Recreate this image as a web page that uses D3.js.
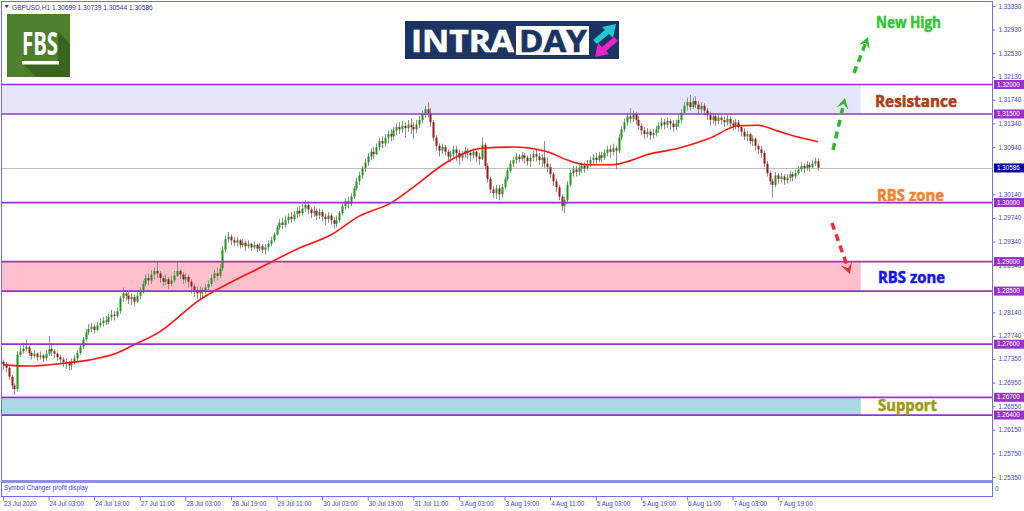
<!DOCTYPE html>
<html><head><meta charset="utf-8">
<script src="https://cdn.jsdelivr.net/npm/d3@7"></script>
<style>
html,body{margin:0;padding:0;background:#fff;overflow:hidden;}
svg{display:block;}
</style></head><body>
<svg id="c" width="1024" height="511"></svg>
<script>
// ---------- DATA (prices in pips above 1.2000, i.e. 1.2 + v/10000) ----------
const symbolHeader = "GBPUSD,H1  1.30699 1.30739 1.30544 1.30586";
const firstOpen = 730;
const closes = [
726,720,705,690,684,742,748,752,755,745,
740,744,738,741,736,744,752,748,744,738,
734,730,728,724,730,736,745,756,768,780,
786,790,784,792,796,800,798,806,810,808,
816,838,846,842,836,840,832,842,850,862,
872,868,878,884,880,872,866,870,862,868,
876,884,878,870,874,866,858,852,846,852,
848,856,862,872,880,876,888,920,938,942,
936,932,936,928,932,926,930,924,928,922,
926,920,924,930,936,946,958,966,962,970,
976,972,980,986,982,990,996,988,982,986,
978,984,976,972,978,970,964,970,982,994,
1002,998,1010,1024,1036,1046,1058,1068,1078,1086,
1082,1094,1104,1100,1110,1116,1112,1122,1128,1124,
1130,1126,1132,1128,1124,1132,1140,1150,1158,1152,
1136,1110,1096,1088,1094,1086,1078,1082,1090,1084,
1076,1082,1088,1084,1080,1086,1078,1074,1098,1062,
1040,1022,1016,1024,1014,1026,1040,1054,1066,1072,
1078,1074,1080,1076,1070,1076,1082,1078,1072,1076,
1066,1060,1048,1036,1026,1010,994,1004,1030,1050,
1056,1052,1058,1062,1058,1066,1072,1076,1072,1080,
1076,1084,1090,1086,1092,1088,1110,1124,1136,1146,
1142,1150,1140,1130,1122,1116,1120,1114,1118,1124,
1130,1136,1132,1138,1134,1128,1134,1140,1152,1164,
1170,1162,1172,1166,1158,1164,1156,1148,1140,1146,
1138,1144,1140,1136,1142,1134,1130,1136,1128,1120,
1112,1116,1104,1108,1096,1090,1084,1066,1050,1036,
1030,1046,1040,1044,1038,1042,1048,1044,1050,1056,
1062,1058,1064,1060,1066,1070,1059];
const highs = [
734,730,722,708,694,748,758,762,767,758,
748,750,746,748,744,750,774,760,752,748,
742,738,736,732,736,742,750,760,772,786,
794,796,794,798,804,806,808,812,818,816,
822,842,856,852,848,846,844,850,856,868,
878,880,886,890,898,884,876,878,874,876,
884,898,888,882,880,878,870,862,858,858,
856,862,868,878,886,890,896,926,944,950,
946,942,942,938,938,936,936,932,934,930,
932,930,930,936,942,950,962,972,974,978,
982,984,986,992,994,998,1004,1002,992,994,
990,990,988,982,984,982,976,978,986,998,
1008,1010,1016,1028,1042,1052,1062,1074,1084,1092,
1094,1100,1110,1112,1116,1122,1124,1128,1134,1136,
1138,1136,1140,1142,1136,1140,1146,1156,1164,1170,
1160,1140,1114,1100,1100,1098,1090,1088,1096,1096,
1090,1088,1094,1092,1090,1092,1088,1084,1110,1102,
1066,1044,1028,1030,1030,1032,1044,1060,1072,1078,
1084,1082,1086,1084,1080,1082,1088,1090,1084,1082,
1104,1076,1066,1052,1040,1030,1014,1010,1036,1056,
1062,1062,1064,1068,1068,1072,1078,1082,1084,1086,
1086,1090,1096,1098,1100,1096,1116,1130,1142,1152,
1160,1156,1154,1146,1134,1128,1126,1124,1124,1130,
1136,1144,1142,1144,1142,1140,1140,1148,1158,1170,
1178,1182,1178,1180,1172,1170,1168,1160,1154,1152,
1150,1150,1148,1146,1148,1146,1140,1142,1140,1132,
1126,1122,1118,1114,1110,1100,1096,1088,1070,1054,
1040,1052,1050,1050,1048,1048,1054,1052,1056,1062,
1068,1066,1070,1068,1072,1076,1074];
const lows = [
716,712,700,684,674,680,738,744,748,740,
734,736,732,734,730,732,740,740,736,732,
726,722,718,716,716,726,732,742,752,764,
776,780,778,782,788,790,792,794,800,800,
804,812,832,834,828,826,824,830,836,846,
858,860,862,870,872,864,858,860,854,858,
864,874,870,862,864,856,846,840,836,834,
838,844,850,858,866,868,872,884,916,932,
928,926,926,922,924,918,922,918,920,916,
918,914,912,918,926,932,944,954,956,958,
964,966,968,974,976,978,984,980,974,976,
970,972,968,962,966,962,956,958,966,978,
988,990,994,1006,1020,1030,1040,1052,1062,1072,
1074,1080,1088,1092,1094,1100,1104,1106,1114,1116,
1118,1110,1120,1116,1108,1118,1126,1134,1144,1144,
1128,1104,1088,1078,1082,1080,1070,1068,1076,1070,
1064,1070,1076,1074,1070,1074,1068,1064,1072,1056,
1034,1016,1008,1006,1004,1008,1022,1036,1050,1060,
1066,1068,1070,1066,1062,1060,1070,1070,1064,1060,
1058,1052,1042,1028,1018,1004,986,982,998,1026,
1044,1044,1046,1050,1050,1054,1060,1064,1066,1068,
1068,1072,1078,1076,1080,1056,1084,1106,1120,1130,
1134,1136,1132,1124,1114,1108,1110,1106,1108,1112,
1118,1124,1124,1126,1124,1120,1122,1128,1134,1148,
1156,1156,1158,1160,1150,1152,1148,1140,1130,1134,
1130,1132,1132,1128,1130,1126,1122,1124,1120,1112,
1106,1104,1098,1096,1088,1082,1076,1060,1044,1030,
1008,1026,1032,1034,1030,1032,1036,1036,1040,1046,
1052,1050,1054,1052,1058,1062,1054];

// moving average (read at sample bars)
const maIndex  = [0,9,20,30,40,46,55,69,80,90,104,115,125,136,144,156,168,179,191,198,205,214,219,226,237,248,258,265,272,279,286];
const maValues = [725,723,727,733,745,759,781,835,865,889,923,945,977,999,1026,1069,1092,1094,1086,1072,1064,1064,1069,1081,1092,1109,1130,1131,1121,1111,1103];

// time axis labels (bar index, text)
const timeIndex = [0,16,32,48,64,80,96,112,128,144,160,176,192,208,224,240,256,272];
const timeText = ["23 Jul 2020","24 Jul 03:00","24 Jul 19:00","27 Jul 11:00","28 Jul 03:00","28 Jul 19:00","29 Jul 11:00","30 Jul 03:00","30 Jul 19:00","31 Jul 11:00","3 Aug 03:00","3 Aug 19:00","4 Aug 11:00","5 Aug 03:00","5 Aug 19:00","6 Aug 11:00","7 Aug 03:00","7 Aug 19:00"];

// price axis labels (those not hidden behind the level boxes)
const priceTicks = ["1.33330","1.32930","1.32530","1.32130","1.31740","1.31340","1.30940","1.30140","1.29740","1.29340","1.28940","1.28140","1.27740","1.27350","1.26950","1.26550","1.26150","1.25750","1.25350"];

// horizontal levels and zones
const levelPrices = [1.32000,1.31500,1.30000,1.29000,1.28500,1.27600,1.26700,1.26400];
const zoneTop    = [1.32000,1.29000,1.26700];
const zoneBottom = [1.31500,1.28500,1.26400];
const zoneEndIndex = 301;
const currentPrice = 1.30586;

// ---------- STYLE ----------
const zoneColors = ["#e6e6fa","#ffc0cb","#add8e6"];
const frameColor = "#6f6fe0";
const textBlue = "#4040cc";
const levelColor = "#9932cc";
const FONT = "'Liberation Sans', Arial, sans-serif";

// ---------- CHART ----------
const svg = d3.select("#c");
const pip = v => 1.2 + v / 10000;
const N = closes.length;
const candles = closes.map((c, i) => ({
  i, o: pip(i === 0 ? firstOpen : closes[i - 1]), h: pip(highs[i]), l: pip(lows[i]), c: pip(c)
}));

const x = d3.scaleLinear().domain([0, N - 1]).range([3, 818]);
const y = d3.scaleLinear().domain([1.2535, 1.3333]).range([477, 6]);

svg.append("rect").attr("width", 1024).attr("height", 511).attr("fill", "#fff");

// zones
const zg = svg.append("g");
zoneTop.forEach((t, k) => {
  zg.append("rect").attr("x", 2).attr("y", y(t))
    .attr("width", x(zoneEndIndex) - 2).attr("height", y(zoneBottom[k]) - y(t))
    .attr("fill", zoneColors[k]);
});

// current price line
svg.append("line").attr("x1", 2).attr("x2", 992).attr("y1", Math.round(y(currentPrice)) + 0.5).attr("y2", Math.round(y(currentPrice)) + 0.5)
  .attr("stroke", "#bdbdbd").attr("stroke-width", 1);

// candles
const cg = svg.append("g");
candles.forEach(d => {
  const xi = Math.round(x(d.i));
  cg.append("rect").attr("x", xi).attr("width", 1)
    .attr("y", y(d.h)).attr("height", Math.max(1, y(d.l) - y(d.h))).attr("fill", "#8e8e8e");
  const top = y(Math.max(d.o, d.c)), bot = y(Math.min(d.o, d.c));
  cg.append("rect").attr("x", xi - 0.5).attr("width", 2)
    .attr("y", top).attr("height", Math.max(1, bot - top))
    .attr("fill", d.c >= d.o ? "#169a16" : "#9a1616");
});

// moving average
const maLine = d3.line().x(d => x(d[0])).y(d => y(pip(d[1]))).curve(d3.curveMonotoneX);
svg.append("path").datum(maIndex.map((m, k) => [m, maValues[k]]))
  .attr("d", maLine).attr("fill", "none").attr("stroke", "#ff1414").attr("stroke-width", 1.6);

// level lines
levelPrices.forEach(p => {
  svg.append("line").attr("x1", 2).attr("x2", 992).attr("y1", y(p)).attr("y2", y(p))
    .attr("stroke", levelColor).attr("stroke-width", 1.7);
});

// ---------- FRAME ----------
svg.append("line").attr("x1", 1.5).attr("x2", 1.5).attr("y1", 1).attr("y2", 497).attr("stroke", frameColor);
svg.append("line").attr("x1", 1).attr("x2", 993).attr("y1", 1.5).attr("y2", 1.5).attr("stroke", frameColor);
svg.append("rect").attr("x", 1).attr("y", 480).attr("width", 992).attr("height", 3).attr("fill", "#8e8ee6");
svg.append("line").attr("x1", 992.5).attr("x2", 992.5).attr("y1", 1).attr("y2", 497).attr("stroke", frameColor);
svg.append("line").attr("x1", 1).attr("x2", 993).attr("y1", 496.5).attr("y2", 496.5).attr("stroke", frameColor);

// right axis
const yAxis = d3.axisRight(y).tickValues(priceTicks.map(Number)).tickFormat((d, i) => priceTicks[i]).tickSize(3).tickPadding(3);
const ya = svg.append("g").attr("transform", "translate(992.5,0)").call(yAxis);
ya.select(".domain").remove();
ya.selectAll("line").attr("stroke", frameColor);
ya.selectAll("text").attr("fill", textBlue).style("font", "6.3px " + FONT);

// price boxes for levels
const boxes = svg.append("g");
levelPrices.forEach(p => {
  boxes.append("rect").attr("x", 994).attr("y", y(p) - 4.5).attr("width", 30).attr("height", 9).attr("fill", levelColor);
  boxes.append("text").attr("x", 997).attr("y", y(p)).attr("dy", "0.34em").attr("fill", "#fff")
    .style("font", "6.3px " + FONT).text(d3.format(".5f")(p));
});
boxes.append("rect").attr("x", 994).attr("y", y(currentPrice) - 4.5).attr("width", 30).attr("height", 9).attr("fill", "#0000a0");
boxes.append("text").attr("x", 997).attr("y", y(currentPrice)).attr("dy", "0.34em").attr("fill", "#fff")
  .style("font", "6.3px " + FONT).text(d3.format(".5f")(currentPrice));

// bottom axis
const xAxis = d3.axisBottom(x).tickValues(timeIndex).tickFormat((d, i) => timeText[i]).tickSize(4);
const xa = svg.append("g").attr("transform", "translate(0,496.5)").call(xAxis);
xa.select(".domain").remove();
xa.selectAll("line").attr("stroke", frameColor);
xa.selectAll("text").attr("fill", textBlue).attr("text-anchor", "start").attr("x", 0.5).attr("y", 5).attr("dy", "0.71em")
  .style("font", "6.3px " + FONT);

// subwindow
svg.append("text").attr("x", 4).attr("y", 490).attr("fill", textBlue).style("font", "6.3px " + FONT).text("Symbol Changer profit display");
svg.append("text").attr("x", 995).attr("y", 491).attr("fill", textBlue).style("font", "6.3px " + FONT).text("0");

// header
svg.append("path").attr("d", "M4.5,5 L9,5 L6.75,8 Z").attr("fill", "#3030c0");
svg.append("text").attr("x", 12).attr("y", 9.5).attr("fill", "#3030c0").style("font", "6.6px " + FONT).text(symbolHeader);

// ---------- LOGOS ----------
const fbs = svg.append("g");
fbs.append("rect").attr("x", 7).attr("y", 14).attr("width", 63).attr("height", 63).attr("fill", "#4d7f2c");
fbs.append("path").attr("d", "M58,32 L70,44 L70,77 L36,77 L22,63 L58,63 Z").attr("fill", "#3a651f");
fbs.append("text").attr("x", 22).attr("y", 55).attr("fill", "#fff").attr("textLength", 36).attr("lengthAdjust", "spacingAndGlyphs")
  .style("font", "bold 32px 'Open Sans', sans-serif").text("FBS");
fbs.append("rect").attr("x", 22).attr("y", 61).attr("width", 37).attr("height", 3.5).attr("fill", "#fff");

const intra = svg.append("g");
intra.append("rect").attr("x", 405).attr("y", 21).attr("width", 214).attr("height", 38).attr("fill", "#1b3462");
intra.append("text").attr("x", 411).attr("y", 52).attr("fill", "#fff").attr("textLength", 103).attr("lengthAdjust", "spacingAndGlyphs")
  .attr("stroke", "#fff").attr("stroke-width", 0.6)
  .style("font", "bold 31px 'Open Sans', sans-serif").text("INTRA");
intra.append("rect").attr("x", 516).attr("y", 26).attr("width", 73).attr("height", 29).attr("fill", "#fff");
intra.append("text").attr("x", 519).attr("y", 52).attr("fill", "#1b3462").attr("textLength", 68).attr("lengthAdjust", "spacingAndGlyphs")
  .attr("stroke", "#1b3462").attr("stroke-width", 0.6)
  .style("font", "bold 31px 'Open Sans', sans-serif").text("DAY");
// up-right cyan arrow
intra.append("path").attr("d", "M593,40 L605,30 L602,27 L616,24 L613,38 L609,34 L597,44 Z").attr("fill", "#20c8d2");
// down-left magenta arrow
intra.append("path").attr("d", "M618,41 L606,51 L609,54 L595,57 L598,43 L602,47 L614,37 Z").attr("fill", "#ee22cc");

// ---------- ANNOTATIONS ----------
function ann(t, xx, yy, len, col) {
  svg.append("text").attr("x", xx).attr("y", yy).attr("fill", col).attr("stroke", col).attr("stroke-width", 0.5)
    .attr("textLength", len).attr("lengthAdjust", "spacingAndGlyphs")
    .style("font", "bold 15.5px 'Open Sans', sans-serif").text(t);
}
ann("New High", 876, 28, 65, "#33c633");
ann("Resistance", 875, 107, 82, "#ad3d12");
ann("RBS zone", 877, 201, 67, "#ff7f2a");
ann("RBS zone", 878, 283, 67, "#1414ee");
ann("Support", 878, 411, 59, "#9c9c12");

function dashedArrow(x1, y1, x2, y2, col) {
  const a = Math.atan2(y2 - y1, x2 - x1), c = Math.cos(a), s = Math.sin(a);
  const hl = 11, hw = 6;
  svg.append("line").attr("x1", x1).attr("y1", y1).attr("x2", x2 - c * hl * 0.6).attr("y2", y2 - s * hl * 0.6)
    .attr("stroke", col).attr("stroke-width", 3.5).attr("stroke-dasharray", "7,5");
  const bx = x2 - c * hl, by = y2 - s * hl, nx = -s, ny = c;
  const mx = x2 - c * hl * 0.55, my = y2 - s * hl * 0.55;
  svg.append("path").attr("d", `M${x2},${y2} L${bx + nx * hw},${by + ny * hw} L${mx},${my} L${bx - nx * hw},${by - ny * hw} Z`).attr("fill", col);
}
dashedArrow(833, 150, 845, 98, "#2eb82e");
dashedArrow(854, 73, 868, 37, "#2eb82e");
dashedArrow(832, 223, 850, 274, "#f02c3c");
</script>
</body></html>
